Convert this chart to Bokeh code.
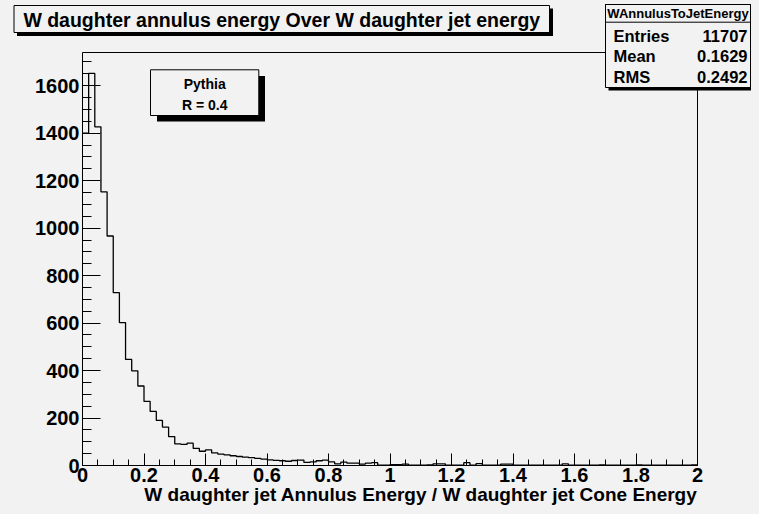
import math
from bokeh.plotting import figure
from bokeh.models import (SingleIntervalTicker, CustomJSTickFormatter, Range1d,
                          LinearAxis, FixedTicker)
from bokeh.core.properties import value
from bokeh.embed import file_html
from bokeh.resources import INLINE

# ---------------- data ----------------
hist_name = "WAnnulusToJetEnergy"
title_text = "W daughter annulus energy Over W daughter jet energy"
x_title = "W daughter jet Annulus Energy / W daughter jet Cone Energy"
legend_lines = ["Pythia", "R = 0.4"]
stat_names = ["Entries", "Mean", "RMS"]
stat_values = ["11707", "0.1629", "0.2492"]

x_min, x_max, n_bins = 0.0, 2.0, 100
counts = [1400, 1652, 1427, 1153, 967, 728, 602, 447, 399, 335,
          270, 228, 190, 162, 122, 91, 89, 94, 72, 60,
          66, 53, 48, 45, 41, 38, 35, 33, 30, 27,
          24, 22, 20, 18, 21, 23, 13, 15, 20, 23,
          15, 7, 14, 10, 10, 6, 10, 12, 2, 2,
          4, 4, 6, 2, 2, 2, 3, 7, 7, 2,
          2, 2, 12, 2, 8, 2, 2, 2, 6, 6,
          2, 2, 2, 2, 2, 1, 1, 2, 7, 2,
          1, 2, 1, 2, 3, 1, 1, 2, 1, 1,
          3, 2, 1, 1, 1, 2, 1, 1, 1, 3]
y_top = 1740

# ---------------- layout ----------------
BG = "#f2f2f2"
FONT = "Liberation Sans"
W, H = 751, 506
PX0, PX1, PY1, PY0 = 82, 697, 52, 465          # frame in canvas pixels
FL, FR, FT, FB = PX0, W - PX1, PY1, H - PY0


def dx(px):
    return x_min + (px - PX0) * (x_max - x_min) / (PX1 - PX0)


def dy(py):
    return (PY0 - py) * y_top / (PY0 - PY1)


edges = [x_min + i * (x_max - x_min) / n_bins for i in range(n_bins + 1)]
step_x = edges
step_y = counts + [counts[-1]]

p = figure(width=W, height=H, output_backend="svg", toolbar_location=None,
           x_range=Range1d(x_min, x_max), y_range=Range1d(0, y_top),
           min_border_left=FL, min_border_right=FR,
           min_border_top=FT, min_border_bottom=FB,
           background_fill_color=BG, border_fill_color=BG,
           outline_line_color=None)
p.grid.visible = False

p.step(x=step_x, y=step_y, mode="after", line_color="black", line_width=1.3)

xa = p.xaxis[0]
xa.ticker = SingleIntervalTicker(interval=0.2, num_minor_ticks=4)
xa.formatter = CustomJSTickFormatter(code="return String(Number(tick.toFixed(3)));")
xa.major_tick_in = 12
xa.major_tick_out = 0
xa.minor_tick_in = 6
xa.minor_tick_out = 0
xa.major_label_standoff = 2

ya = p.yaxis[0]
ya.ticker = SingleIntervalTicker(interval=200, num_minor_ticks=4)
ya.major_tick_in = 18
ya.major_tick_out = 0
ya.minor_tick_in = 9
ya.minor_tick_out = 0
ya.major_label_standoff = 3

for ax in (xa, ya):
    ax.axis_line_color = "black"
    ax.major_tick_line_color = "black"
    ax.minor_tick_line_color = "black"
    ax.major_label_text_font = FONT
    ax.major_label_text_font_style = "bold"
    ax.major_label_text_font_size = "20px"
    ax.major_label_text_color = "black"

# top and right frame edges (no ticks, like ROOT's frame)
for place in ("right", "above"):
    fr = LinearAxis(ticker=FixedTicker(ticks=[]), axis_line_color="black",
                    major_tick_line_color=None, minor_tick_line_color=None,
                    major_label_text_font_size="0px")
    p.add_layout(fr, place)


# ---------- boxes and texts (drawn as overlay glyphs so they may leave the frame)
def rects(boxes):
    xs, ys = [], []
    for (l, t, r, b) in boxes:
        if xs:
            xs.append(math.nan)
            ys.append(math.nan)
        xs += [dx(l), dx(r), dx(r), dx(l)]
        ys += [dy(t), dy(t), dy(b), dy(b)]
    return xs, ys


shadows = [(16.5, 8, 552.5, 35.5),      # title
           (608, 7, 752, 90),           # stats
           (156.5, 75.5, 264.5, 121)]   # legend
frames = [(13.5, 5, 549, 32),
          (605, 4, 750, 87),
          (605, 4, 750, 21.7),
          (150, 69.3, 258.3, 115)]

sx, sy = rects(shadows)
p.patch(x=sx, y=sy, fill_color="black", line_color=None, level="overlay")
bx, by = rects(frames)
p.patch(x=bx, y=by, fill_color=BG, line_color="black", line_width=1,
        level="overlay")


def add_text(px, py, txt, size, align="center"):
    ax_ = min(max(px, PX0 + 10), PX1 - 10)
    ay_ = min(max(py, PY1 + 10), PY0 - 10)
    p.text(x=[dx(ax_)], y=[dy(ay_)], text=[txt],
           x_offset=[px - ax_], y_offset=[py - ay_],
           text_font=value(FONT), text_font_style=value("bold"),
           text_font_size=value(size), text_color="black",
           text_align=value(align), text_baseline=value("middle"),
           level="overlay")


add_text(281.3, 19, title_text, "19.5px")
add_text(677.5, 13, hist_name, "13px")
for i, (nm, val) in enumerate(zip(stat_names, stat_values)):
    mid = 35 + i * 20.8
    add_text(613, mid, nm, "16.5px", "left")
    add_text(747, mid, val, "16.5px", "right")
for i, t in enumerate(legend_lines):
    add_text(204.2, 83 + i * 21, t, "14px")
add_text(697, 493.5, x_title, "19px", "right")

html = file_html(p, INLINE)
html = html.replace("</head>",
                    "<style>html,body{background-color:%s;}</style></head>" % BG, 1)
open("out.html", "w").write(html)
